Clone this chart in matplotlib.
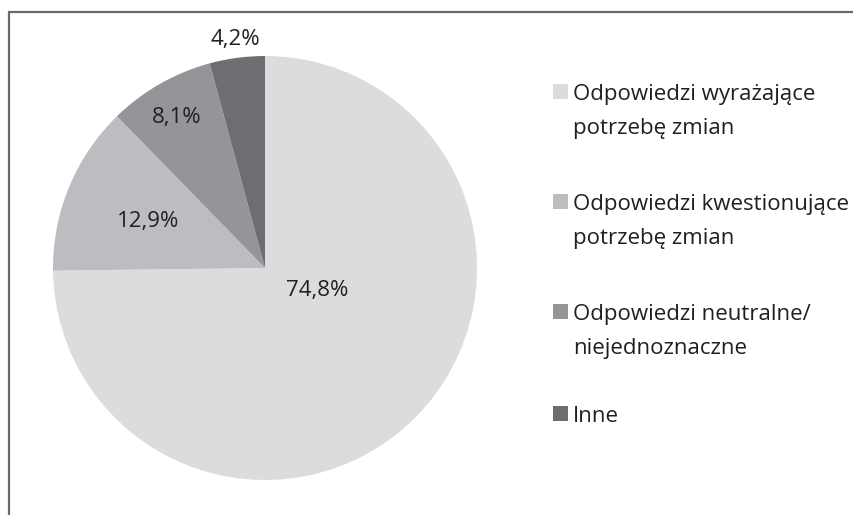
import matplotlib
matplotlib.use("Agg")
import matplotlib.pyplot as plt
from matplotlib.patches import Rectangle

categories = ["Odpowiedzi wyrażające\npotrzebę zmian",
              "Odpowiedzi kwestionujące\npotrzebę zmian",
              "Odpowiedzi neutralne/\nniejednoznaczne",
              "Inne"]
values = [74.8, 12.9, 8.1, 4.2]
labels = ["74,8%", "12,9%", "8,1%", "4,2%"]
colors = ["#dcdcde", "#bcbdc0", "#939598", "#6d6e71"]

plt.rcParams['font.family'] = ['Open Sans', 'DejaVu Sans']
TXT = "#231f20"

W, H = 854, 515
fig = plt.figure(figsize=(W / 100, H / 100), dpi=100)

# frame
fig.patches.append(Rectangle((8.5 / W, -0.1), 1.2, (H - 11.5) / H + 0.1,
                             transform=fig.transFigure, fill=False,
                             edgecolor="#6a6a6a", linewidth=1.6))

cx, cy, r = 265, 268, 212
ax = fig.add_axes([(cx - r) / W, (H - cy - r) / H, 2 * r / W, 2 * r / H])
wedges, _ = ax.pie(values, colors=colors, startangle=90, counterclock=False,
                   wedgeprops=dict(linewidth=0))
ax.set_xlim(-1, 1)
ax.set_ylim(-1, 1)
ax.set_aspect('equal')

label_pos = [(0.245, -0.108), (-0.552, 0.217), (-0.415, 0.712), (-0.142, 1.08)]
for lab, (x, y) in zip(labels, label_pos):
    ax.text(x, y, lab, ha='center', va='center', fontsize=16, color=TXT)

# legend (square markers aligned with first line, as in the reference)
baselines = [100, 210, 320, 422]
line_gap = 34
for cat, col, b in zip(categories, colors, baselines):
    fig.patches.append(Rectangle((553 / W, 1 - (b - 1) / H), 15 / W, 15 / H,
                                 transform=fig.transFigure, facecolor=col,
                                 edgecolor='none'))
    for i, line in enumerate(cat.split("\n")):
        fig.text(573 / W, 1 - (b + i * line_gap) / H, line, ha='left',
                 va='baseline', fontsize=16, color=TXT)

fig.savefig("out.png", dpi=100)
